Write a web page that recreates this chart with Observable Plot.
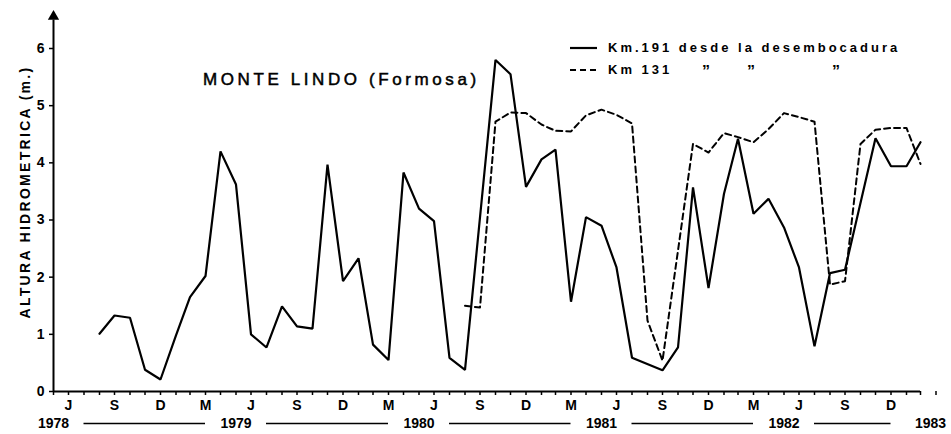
<!DOCTYPE html>
<html><head><meta charset="utf-8">
<script src="https://cdn.jsdelivr.net/npm/d3@7"></script>
<script src="https://cdn.jsdelivr.net/npm/@observablehq/plot@0.6"></script>
<style>
body{margin:0;background:#fff;}
#wrap{position:relative;width:951px;height:434px;font-family:"Liberation Sans",Arial,sans-serif;color:#000;}
#wrap svg{position:absolute;left:0;top:0;}
.ov{position:absolute;white-space:pre;line-height:1;}
#title{left:203px;top:71px;font-size:17px;letter-spacing:3.6px;font-weight:normal;-webkit-text-stroke:0.5px #000;}
#ylab{left:25px;top:192px;font-size:14px;font-weight:bold;letter-spacing:2.3px;transform:translate(-50%,-50%) rotate(-90deg);}
.legtxt{font-size:13px;font-weight:bold;letter-spacing:3px;}
</style></head><body>
<div id="wrap"></div>
<script>
// ---- data ----
const km191Months = ["1978-09","1978-10","1978-11","1978-12","1979-01","1979-02","1979-03","1979-04","1979-05","1979-06","1979-07","1979-08","1979-09","1979-10","1979-11","1979-12","1980-01","1980-02","1980-03","1980-04","1980-05","1980-06","1980-07","1980-08","1980-09","1980-11","1980-12","1981-01","1981-02","1981-03","1981-04","1981-05","1981-06","1981-07","1981-08","1981-10","1981-11","1981-12","1982-01","1982-02","1982-03","1982-04","1982-05","1982-06","1982-07","1982-08","1982-09","1982-10","1982-12","1983-01","1983-02","1983-03"];
const km191Values = [1.01,1.33,1.29,0.38,0.21,0.98,1.65,2.02,4.20,3.62,1.00,0.77,1.49,1.14,1.10,3.97,1.93,2.33,0.82,0.55,3.83,3.20,2.98,0.59,0.38,5.80,5.55,3.58,4.06,4.23,1.57,3.05,2.90,2.17,0.59,0.37,0.77,3.57,1.81,3.46,4.42,3.11,3.37,2.87,2.17,0.79,2.07,2.13,4.43,3.94,3.94,4.36];
const km131Months = ["1980-09","1980-10","1980-11","1980-12","1981-01","1981-02","1981-03","1981-04","1981-05","1981-06","1981-07","1981-08","1981-09","1981-10","1981-12","1982-01","1982-02","1982-03","1982-04","1982-05","1982-06","1982-07","1982-08","1982-09","1982-10","1982-11","1982-12","1983-01","1983-02","1983-03"];
const km131Values = [1.50,1.47,4.72,4.88,4.87,4.67,4.56,4.55,4.83,4.93,4.84,4.69,1.24,0.54,4.33,4.18,4.52,4.45,4.36,4.59,4.87,4.80,4.72,1.87,1.93,4.33,4.58,4.61,4.61,3.98];
const yTicks = [0,1,2,3,4,5,6];
const monthLetters = ["J","S","D","M"];
const yearLabels = ["1978","1979","1980","1981","1982","1983"];
const yearMonths = ["1978-06","1979-06","1980-06","1981-06","1982-06","1983-03"];
const titleText = "MONTE LINDO (Formosa)";
const yLabelText = "ALTURA HIDROMETRICA (m.)";
const legendLabels = ["Km.191 desde la desembocadura","Km 131"];
const dittoMark = "\u201D";

// ---- build ----
const parse = d3.utcParse("%Y-%m");
const km191 = km191Months.map((m,i)=>({date:parse(m), value:km191Values[i]}));
const km131 = km131Months.map((m,i)=>({date:parse(m), value:km131Values[i]}));
const xStart = parse("1978-06"), xEnd = parse("1983-03");
const monthTicks = d3.utcMonth.range(xStart, parse("1983-05"));
const quarterTicks = d3.utcMonth.every(3).range(xStart, parse("1983-04"));
const decTicks = quarterTicks.filter(d=>d.getUTCMonth()===11);
const years = yearLabels.map((t,i)=>({label:t, date:parse(yearMonths[i])}));
const yearSegs = years.slice(0,-1).map((y,i)=>({x1:d3.utcMonth.offset(y.date,2), x2:d3.utcMonth.offset(years[i+1].date,-2)}));
const rowY = -0.56;

const chart = Plot.plot({
  width: 951, height: 434,
  marginLeft: 53, marginRight: 31, marginTop: 48, marginBottom: 43,
  x: {type:"utc", domain:[xStart,xEnd], axis:null},
  y: {domain:[0,6], axis:null},
  style: {fontFamily:"Liberation Sans, Arial, sans-serif", background:"white", overflow:"visible", color:"black"},
  marks: [
    Plot.axisY({ticks: yTicks, tickSize: 4, tickPadding: 5, fontSize: 14, fontWeight: "bold", label: null, strokeWidth: 1.5, tickFormat: d=>String(d)}),
    Plot.axisX({ticks: monthTicks, tickSize: 4, tickFormat: ()=>"", label: null, strokeWidth: 1.5}),
    Plot.axisX({ticks: decTicks, tickSize: 8, tickFormat: ()=>"", label: null, strokeWidth: 1.8}),
    Plot.axisX({ticks: quarterTicks, tickSize: 0, tickPadding: 9, fontSize: 14, fontWeight: "bold", label: null, tickFormat: (d,i)=>monthLetters[i%4]}),
    Plot.ruleY([0], {x1: xStart, x2: parse("1983-04-22"), strokeWidth: 2}),
    Plot.ruleX([xStart], {y1: 0, y2: 6.5, strokeWidth: 2}),
    Plot.dot([xStart], {x: d=>d, y: ()=>6.56, symbol: "triangle", r: 4.2, fill: "black", stroke: "none"}),
    Plot.line(km191, {x:"date", y:"value", stroke:"black", strokeWidth: 2.2, strokeLinejoin:"miter", curve:"linear"}),
    Plot.line(km131, {x:"date", y:"value", stroke:"black", strokeWidth: 2, strokeDasharray:"6,4", curve:"linear"}),
    Plot.text(years.slice(0,-1), {x:"date", y: ()=>rowY, text:"label", fontSize: 14, fontWeight: "bold", textAnchor: "middle"}),
    Plot.text(years.slice(-1), {x:"date", y: ()=>rowY, text:"label", fontSize: 14, fontWeight: "bold", textAnchor: "middle", dx: 10}),
    Plot.ruleY(yearSegs, {x1:"x1", x2:"x2", y: ()=>rowY, strokeWidth: 1.4}),
    Plot.ruleX(decTicks, {x: d=>d, y1: rowY+0.1, y2: rowY-0.09, strokeWidth: 1.4})
  ]
});
const wrap = document.getElementById("wrap");
wrap.appendChild(chart);

function addText(id, cls, txt, left, top, extra){
  const d = document.createElement("div");
  if (id) d.id = id;
  d.className = "ov " + (cls||"");
  d.textContent = txt;
  if (left!=null) d.style.left = left+"px";
  if (top!=null) d.style.top = top+"px";
  if (extra) Object.assign(d.style, extra);
  wrap.appendChild(d);
  return d;
}
addText("title", "", titleText);
addText("ylab", "", yLabelText);
// legend
const legSvg = d3.create("svg").attr("width",40).attr("height",40)
  .style("position","absolute").style("left","568px").style("top","38px");
legSvg.append("line").attr("x1",2).attr("x2",29).attr("y1",10).attr("y2",10).attr("stroke","black").attr("stroke-width",2.2);
legSvg.append("line").attr("x1",2).attr("x2",29).attr("y1",32).attr("y2",32).attr("stroke","black").attr("stroke-width",2).attr("stroke-dasharray","6,4");
wrap.appendChild(legSvg.node());
addText(null, "legtxt", legendLabels[0], 608, 41);
addText(null, "legtxt", legendLabels[1], 608, 63);
[705, 750, 835].forEach(x => addText(null, "legtxt", dittoMark, x-3, 64, {fontSize:"16px"}));
</script>
</body></html>
